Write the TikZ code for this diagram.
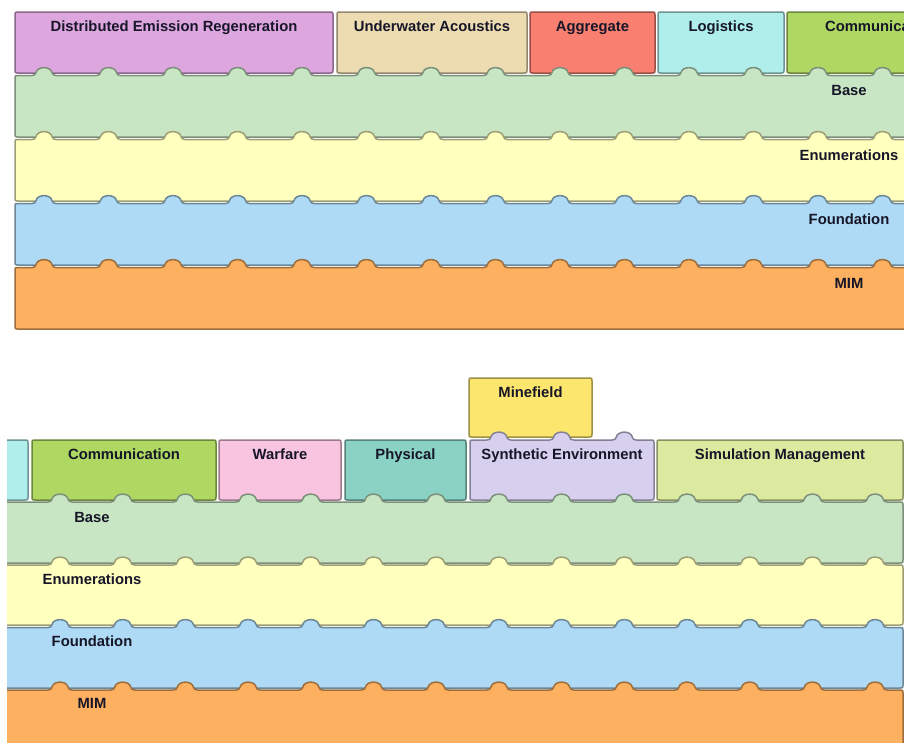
\documentclass[tikz,border=0pt]{standalone}
\usepackage{fontspec}
\setmainfont{Liberation Sans}
\definecolor{cDER}{RGB}{222,166,222}
\definecolor{cUA}{RGB}{237,220,178}
\definecolor{cAgg}{RGB}{249,128,112}
\definecolor{cLog}{RGB}{176,238,236}
\definecolor{cCom}{RGB}{174,216,98}
\definecolor{cBase}{RGB}{200,230,196}
\definecolor{cEnum}{RGB}{255,255,190}
\definecolor{cFound}{RGB}{175,218,245}
\definecolor{cMIM}{RGB}{253,176,96}
\definecolor{cWar}{RGB}{249,196,224}
\definecolor{cPhys}{RGB}{138,210,196}
\definecolor{cSyn}{RGB}{214,208,238}
\definecolor{cMine}{RGB}{253,230,110}
\definecolor{cSim}{RGB}{220,234,160}
\definecolor{txt}{RGB}{22,22,40}
\tikzset{
  piece/.style={draw=#1!62!black, fill=#1, line width=1.5pt, line join=round},
  lbl/.style={font=\bfseries\fontsize{14.8}{16}\selectfont, text=txt, inner sep=0pt, anchor=base}
}
% flat-topped piece: x1,x2,ytop,ybot,colour
\newcommand\flatpiece[5]{%
  \draw[piece=#5] (#1,#4-3) -- (#1,#3+3) .. controls (#1,#3) .. (#1+3,#3)
    -- (#2-3,#3) .. controls (#2,#3) .. (#2,#3+3) -- (#2,#4-3)
    .. controls (#2,#4) .. (#2-3,#4) -- (#1+3,#4) .. controls (#1,#4) .. cycle;}
% piece with tabs on its top edge: x1,x2,ytop,ybot,colour,tab centres
\newcommand\tabpiece[6]{%
  \draw[piece=#5] (#1,#4-3) -- (#1,#3+3) .. controls (#1,#3) .. (#1+3,#3)
    \foreach \c in #6 { -- (\c-12,#3) .. controls (\c-9.5,#3) and (\c-8.5,#3-1) .. (\c-8,#3-3)
      .. controls (\c-6.5,#3-9.5) and (\c+6.5,#3-9.5) .. (\c+8,#3-3)
      .. controls (\c+8.5,#3-1) and (\c+9.5,#3) .. (\c+12,#3) }
    -- (#2-3,#3) .. controls (#2,#3) .. (#2,#3+3) -- (#2,#4-3)
    .. controls (#2,#4) .. (#2-3,#4) -- (#1+3,#4) .. controls (#1,#4) .. cycle;}
\begin{document}
\begin{tikzpicture}[x=1pt,y=-1pt]
\useasboundingbox (0,0) rectangle (904,742);
\fill[white] (0,0) rectangle (904,742);
\def\tabsA{44,108.5,173,237.5,302,366.5,431,495.5,560,624.5,689,753.5,818,882.5}
\def\tabsB{60,122.7,185.4,248.1,310.8,373.5,436.2,498.9,561.6,624.3,687,749.7,812.4,875.1}
% ---------------- top panel ----------------
\begin{scope}
\clip (0,0) rectangle (904,345);
\flatpiece{15}{333}{12}{73}{cDER}
\flatpiece{337}{527}{12}{73}{cUA}
\flatpiece{530}{655}{12}{73}{cAgg}
\flatpiece{658}{784}{12}{73}{cLog}
\flatpiece{787}{975}{12}{73}{cCom}
\tabpiece{15}{1000}{75.5}{137}{cBase}{\tabsA}
\tabpiece{15}{1000}{139.5}{201}{cEnum}{\tabsA}
\tabpiece{15}{1000}{203.5}{265}{cFound}{\tabsA}
\tabpiece{15}{1000}{267.5}{329}{cMIM}{\tabsA}
\node[lbl] (tDER) at (174,31.5) {Distributed Emission Regeneration};
\node[lbl] (tUA) at (432,31.5) {Underwater Acoustics};
\node[lbl] (tAgg) at (592.5,31.5) {Aggregate};
\node[lbl] (tLog) at (721,31.5) {Logistics};
\node[lbl] (tCom) at (881,31.5) {Communication};
\node[lbl] (tBase) at (849,95.5) {Base};
\node[lbl] (tEnum) at (849,160) {Enumerations};
\node[lbl] (tFound) at (849,224) {Foundation};
\node[lbl] (tMIM) at (849,288) {MIM};
\end{scope}
% ---------------- bottom panel ----------------
\begin{scope}
\clip (7,360) rectangle (904,742);
\flatpiece{469}{592}{378}{437}{cMine}
\flatpiece{-20}{28}{440}{500}{cLog}
\flatpiece{32}{216}{440}{500}{cCom}
\flatpiece{219}{341}{440}{500}{cWar}
\flatpiece{345}{466}{440}{500}{cPhys}
\tabpiece{470}{654}{440}{500}{cSyn}{{498.9,561.6,624.3}}
\flatpiece{657}{903}{440}{500}{cSim}
\tabpiece{-20}{903}{502}{563}{cBase}{\tabsB}
\tabpiece{-20}{903}{565}{625}{cEnum}{\tabsB}
\tabpiece{-20}{903}{627.5}{688}{cFound}{\tabsB}
\tabpiece{-20}{903}{690}{770}{cMIM}{\tabsB}
\node[lbl] (bMine) at (530.5,397.5) {Minefield};
\node[lbl] (bCom) at (124,459.5) {Communication};
\node[lbl] (bWar) at (280,459.5) {Warfare};
\node[lbl] (bPhys) at (405.5,459.5) {Physical};
\node[lbl] (bSyn) at (562,459.5) {Synthetic Environment};
\node[lbl] (bSim) at (780,459.5) {Simulation Management};
\node[lbl] (bBase) at (92,522) {Base};
\node[lbl] (bEnum) at (92,584) {Enumerations};
\node[lbl] (bFound) at (92,646) {Foundation};
\node[lbl] (bMIM) at (92,708) {MIM};
\end{scope}
\end{tikzpicture}
\end{document}
